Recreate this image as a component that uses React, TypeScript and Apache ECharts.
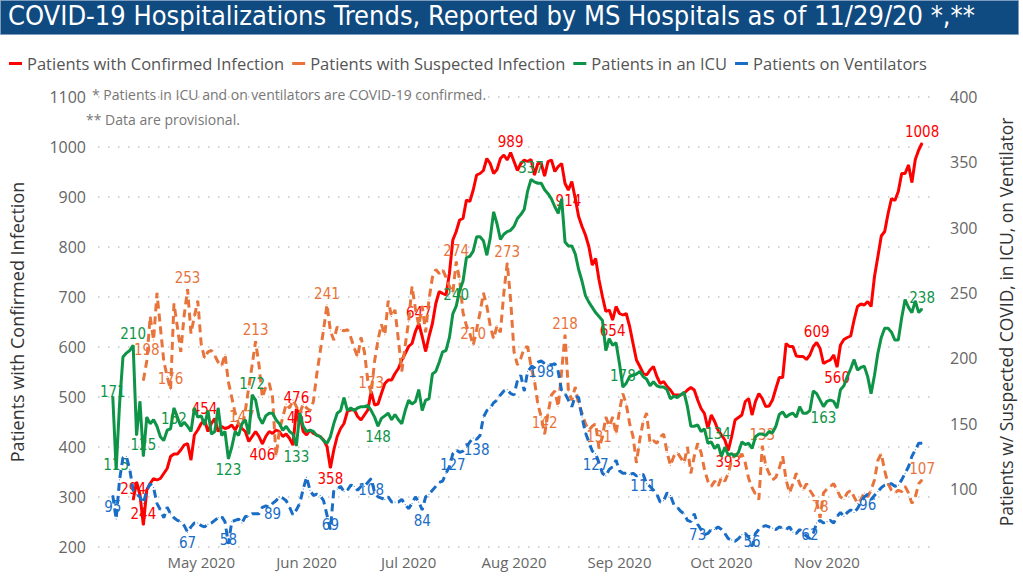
import React, { useEffect, useRef } from "react";
import * as echarts from "echarts";

// ---- data: daily values, index 0 = 5 Apr 2020, last = 29 Nov 2020 ----
const START_DATE = Date.UTC(2020, 3, 5);

const confirmed: (number | null)[] = [
  null, null, null, null, null, null, 294, 330, 305, 244,
  314, 327, 337, 334, 337, 347, 357, 381, 386, 386,
  394, 404, 407, 374, 424, 434, 447, 454, 431, 447,
  457, 431, 441, 437, 439, 444, 434, 447, 437, 431,
  411, 421, 431, 421, 406, 421, 431, 427, 434, 431,
  421, 426, 417, 404, 476, 465, 431, 424, 434, 427,
  424, 421, 414, 401, 358, 394, 421, 437, 447, 471,
  474, 475, 461, 454, 464, 474, 511, 484, 486, 507,
  527, 534, 534, 547, 557, 574, 587, 601, 607, 631,
  647, 621, 591, 621, 647, 687, 711, 707, 704, 747,
  814, 831, 854, 857, 894, 891, 914, 944, 947, 953,
  977, 967, 947, 955, 977, 984, 974, 989, 971, 953,
  967, 974, 971, 975, 944, 967, 967, 942, 971, 974,
  951, 961, 967, 927, 914, 931, 897, 861, 841, 824,
  801, 764, 777, 734, 701, 671, 674, 654, 681, 667,
  664, 667, 641, 607, 574, 561, 547, 544, 554, 561,
  541, 527, 531, 521, 514, 504, 504, 504, 507, 514,
  519, 514, 494, 477, 467, 437, 464, 451, 434, 424,
  414, 393, 421, 454, 459, 464, 491, 497, 464, 491,
  507, 497, 481, 482, 494, 517, 539, 539, 607, 601,
  601, 582, 581, 581, 575, 584, 601, 609, 597, 567,
  571, 574, 584, 560, 604, 615, 619, 622, 654, 681,
  686, 684, 691, 681, 741, 781, 822, 831, 867, 897,
  893, 911, 947, 947, 964, 929, 975, 994, 1008,
];

const suspected: (number | null)[] = [
  null, null, null, null, null, null, null, null, null, 183,
  198, 232, 214, 250, 224, 198, 186, 176, 242, 224,
  205, 233, 253, 219, 232, 244, 211, 200, 205, 206,
  202, 197, 194, 203, 182, 170, 158, 150, 147, 160,
  178, 195, 213, 195, 170, 178, 181, 170, 125, 145,
  155, 165, 162, 168, 163, 158, 165, 162, 160, 167,
  188, 205, 222, 241, 221, 214, 224, 222, 221, 222,
  216, 208, 201, 216, 205, 183, 173, 198, 214, 226,
  218, 244, 232, 237, 214, 190, 210, 228, 255, 238,
  225, 240, 220, 245, 262, 268, 265, 268, 262, 255,
  250, 274, 260, 235, 225, 219, 210, 222, 235, 250,
  240, 225, 215, 225, 220, 250, 273, 245, 205, 195,
  200, 208, 209, 194, 183, 165, 155, 142, 158, 172,
  175, 163, 190, 218, 175, 168, 178, 165, 158, 150,
  145, 148, 150, 131, 140, 155, 148, 155, 142, 160,
  173, 165, 150, 140, 120, 138, 152, 158, 135, 137,
  135, 140, 142, 128, 118, 125, 128, 124, 120, 132,
  112, 125, 135, 128, 115, 106, 102, 106, 102, 109,
  106, 112, 122, 127, 123, 127, 120, 108, 101, 96,
  92, 133, 118, 112, 107, 109, 116, 125, 107, 97,
  104, 112, 104, 99, 104, 99, 95, 90, 78, 97,
  100, 102, 104, 99, 94, 92, 97, 99, 94, 89,
  92, 97, 94, 99, 107, 122, 127, 114, 104, 99,
  97, 99, 98, 102, 97, 89, 94, 104, 107,
];

const icu: number[] = [
  171, 115, 165, 201, 204, 206, 210, 141, 167, 125,
  155, 150, 153, 148, 140, 137, 145, 146, 162, 155,
  148, 151, 148, 144, 162, 155, 156, 149, 160, 142,
  144, 162, 141, 144, 123, 132, 144, 141, 150, 153,
  142, 172, 168, 155, 150, 156, 158, 158, 153, 150,
  145, 148, 144, 142, 133, 158, 148, 144, 145, 144,
  141, 140, 137, 135, 140, 150, 158, 160, 170, 160,
  162, 160, 162, 163, 163, 164, 160, 155, 148, 154,
  156, 158, 153, 157, 153, 150, 160, 168, 165, 167,
  176, 160, 168, 169, 188, 190, 197, 205, 206, 216,
  234, 240, 252, 259, 277, 278, 282, 293, 293, 290,
  279, 292, 312, 303, 291, 295, 297, 298, 301, 307,
  310, 314, 328, 337, 335, 334, 334, 329, 326, 322,
  316, 311, 322, 289, 286, 286, 280, 268, 259, 248,
  243, 239, 235, 232, 229, 206, 215, 210, 212, 196,
  178, 181, 186, 187, 188, 190, 186, 184, 179, 182,
  179, 178, 178, 176, 169, 171, 170, 172, 174, 163,
  148, 148, 149, 144, 146, 135, 136, 131, 134, 125,
  132, 126, 127, 125, 128, 136, 134, 135, 131, 140,
  142, 142, 141, 144, 143, 148, 157, 159, 155, 157,
  158, 155, 163, 158, 158, 160, 175, 173, 168, 163,
  167, 168, 167, 162, 176, 179, 186, 192, 199, 191,
  193, 194, 186, 173, 187, 204, 216, 223, 223, 220,
  214, 214, 231, 245, 239, 235, 244, 235, 238,
];

const ventilators: number[] = [
  95, 77, 107, 124, 125, 115, 99, 96, 94, 89,
  99, 104, 101, 89, 84, 78, 86, 81, 78, 76,
  75, 72, 67, 71, 74, 74, 72, 71, 73, 74,
  76, 78, 79, 75, 58, 75, 76, 77, 74, 79,
  79, 81, 81, 81, 86, 87, 86, 89, 91, 94,
  93, 91, 86, 80, 84, 89, 100, 109, 99, 95,
  96, 95, 91, 80, 69, 99, 100, 102, 98, 99,
  103, 102, 99, 102, 102, 105, 108, 97, 94, 93,
  92, 94, 90, 90, 90, 92, 88, 85, 89, 94,
  90, 84, 94, 96, 99, 102, 105, 106, 112, 117,
  127, 130, 128, 129, 132, 136, 139, 138, 141, 155,
  160, 162, 166, 168, 172, 175, 176, 173, 172, 183,
  187, 175, 190, 193, 193, 197, 198, 196, 195, 195,
  196, 190, 175, 173, 168, 163, 171, 170, 155, 143,
  136, 129, 127, 120, 112, 110, 115, 117, 122, 114,
  112, 112, 111, 112, 110, 111, 111, 104, 102, 99,
  96, 90, 91, 97, 95, 88, 86, 83, 81, 76,
  75, 81, 73, 69, 65, 66, 69, 69, 71, 69,
  66, 62, 61, 60, 62, 65, 66, 63, 56, 66,
  69, 71, 72, 71, 70, 69, 71, 70, 69, 71,
  67, 66, 69, 66, 64, 62, 66, 74, 76, 74,
  75, 76, 74, 79, 82, 79, 82, 84, 82, 85,
  90, 94, 96, 92, 95, 98, 101, 103, 104, 104,
  102, 103, 107, 112, 117, 125, 130, 135, 135,
];

// which points carry a data label: [index, placement, vertical nudge]
const confirmedLabels: [number, string, number][] = [
  [6, "top", 0], [9, "top", 0], [27, "top", 0], [44, "bottom", 0], [54, "top", 0], [55, "inside", 3],
  [64, "bottom", 0], [90, "top", 0], [117, "top", 0], [134, "bottom", 0], [147, "bottom", 0],
  [181, "bottom", 0], [207, "top", 0], [213, "bottom", 0], [238, "top", 0],
];
const suspectedLabels: [number, string, number][] = [
  [10, "top", 0], [17, "top", 0], [22, "top", 0], [38, "top", 0], [42, "top", 0], [63, "top", 0],
  [76, "top", 0], [101, "top", 0], [106, "top", 0], [116, "top", 0], [127, "top", 0], [133, "top", 0],
  [143, "top", 0], [191, "top", 0], [208, "top", 0], [238, "top", 0],
];
const icuLabels: [number, string, number][] = [
  [0, "inside", -4], [1, "inside", -4], [6, "top", 0], [9, "top", 0], [18, "bottom", 0], [34, "bottom", 0],
  [41, "top", 0], [54, "bottom", 0], [78, "bottom", 0], [101, "top", 0], [123, "top", 0], [150, "top", 0],
  [178, "top", 0], [209, "bottom", 0], [238, "top", 0],
];
const ventLabels: [number, string, number][] = [
  [0, "bottom", 0], [22, "bottom", 0], [34, "inside", -4], [47, "bottom", 0], [64, "inside", -4],
  [76, "bottom", 0], [91, "bottom", 0], [100, "bottom", 0], [107, "bottom", 0], [126, "bottom", 0],
  [142, "bottom", 0], [156, "bottom", 0], [172, "bottom", 0], [188, "inside", -4], [205, "inside", -4],
  [222, "bottom", 0],
];

const monthTickLabels = ["May 2020", "Jun 2020", "Jul 2020", "Aug 2020", "Sep 2020", "Oct 2020", "Nov 2020"];
const monthTickDates = [
  Date.UTC(2020, 4, 1), Date.UTC(2020, 5, 1), Date.UTC(2020, 6, 1), Date.UTC(2020, 7, 1),
  Date.UTC(2020, 8, 1), Date.UTC(2020, 9, 1), Date.UTC(2020, 10, 1),
];
const rightTicks = [100, 150, 200, 250, 300, 350, 400];

const seriesNames = [
  "Patients with Confirmed Infection",
  "Patients with Suspected Infection",
  "Patients in an ICU",
  "Patients on Ventilators",
];
const colors = ["#FF0000", "#E8743B", "#0E9447", "#1A6DC6"];

const NARROW = "'Liberation Sans Narrow', 'DejaVu Sans Condensed', 'Roboto Condensed', sans-serif";
const SANS = "'Segoe UI', 'Open Sans', 'Noto Sans', sans-serif";

const DAY = 86400000;

function buildData(values: (number | null)[], labels: [number, string, number][]) {
  const lab = new Map(labels.map((l) => [l[0], l]));
  const out: any[] = [];
  values.forEach((v, i) => {
    if (v === null) return;
    const spec = lab.get(i);
    const item: any = { value: [i, v] };
    if (spec) {
      item.label = { show: true, position: spec[1] };
      if (spec[2]) item.label.offset = [0, spec[2]];
    }
    out.push(item);
  });
  return out;
}

export default function App() {
  const ref = useRef<HTMLDivElement>(null);

  useEffect(() => {
    if (!ref.current) return;
    const chart = echarts.init(ref.current, undefined, { renderer: "svg" });
    const monthIdx = monthTickDates.map((d) => Math.round((d - START_DATE) / DAY));
    const lastIdx = icu.length - 1;

    const mkSeries = (k: number, values: (number | null)[], labels: [number, string, number][], yAxisIndex: number, dashed: boolean) => ({
      name: seriesNames[k],
      type: "line",
      yAxisIndex,
      data: buildData(values, labels),
      symbol: "circle",
      symbolSize: 1,
      showSymbol: true,
      itemStyle: { color: colors[k] },
      lineStyle: { color: colors[k], width: 3, type: dashed ? [8, 5] : "solid" },
      label: {
        show: false,
        color: colors[k],
        fontFamily: NARROW,
        fontSize: 15,
        distance: 3,
        formatter: (p: any) => String(p.value[1]),
      },
      emphasis: { disabled: true },
      z: 2 + k,
    });

    chart.setOption({
      animation: false,
      backgroundColor: "#ffffff",
      grid: { left: 90, right: 83, top: 97, bottom: 41, containLabel: false },
      legend: {
        data: seriesNames,
        left: 4,
        top: 50,
        icon: "rect",
        itemWidth: 13,
        itemHeight: 3,
        itemGap: 8,
        textStyle: { color: "#555", fontSize: 16.5, fontFamily: SANS },
      },
      xAxis: {
        type: "value",
        min: -4.34,
        max: lastIdx + 3.5,
        splitLine: { show: false },
        axisLine: { show: false },
        axisTick: { show: false },
        axisLabel: {
          customValues: monthIdx,
          formatter: (v: number) => {
            const k = monthIdx.indexOf(Math.round(v));
            return k >= 0 ? monthTickLabels[k] : "";
          },
          color: "#666",
          fontSize: 15,
          fontFamily: SANS,
          margin: 7,
        },
      },
      yAxis: [
        {
          type: "value",
          min: 200,
          max: 1100,
          interval: 100,
          name: "Patients with Confirmed Infection",
          nameLocation: "middle",
          nameRotate: 90,
          nameGap: 72,
          nameTextStyle: { color: "#333", fontSize: 18, fontFamily: SANS },
          axisLine: { show: false },
          axisTick: { show: false },
          axisLabel: {
            color: "#666",
            fontSize: 16,
            fontFamily: SANS,
            margin: 12,
            formatter: (v: number) => String(v),
          },
          splitLine: { lineStyle: { color: "#c4c4c4", width: 1.5, type: [1.5, 8.5] } },
        },
        {
          type: "value",
          min: 55.6,
          max: 400,
          name: "Patients w/ Suspected COVID, in ICU, on Ventilator",
          nameLocation: "middle",
          nameRotate: 90,
          nameGap: 63,
          nameTextStyle: { color: "#333", fontSize: 17.5, fontFamily: SANS },
          axisLine: { show: false },
          axisTick: { show: false },
          axisLabel: {
            customValues: rightTicks,
            color: "#666",
            fontSize: 16,
            fontFamily: SANS,
            margin: 16,
            formatter: (v: number) => String(v),
          },
          splitLine: { show: false },
        },
      ],
      graphic: [
        {
          type: "rect",
          left: 0,
          top: 0,
          shape: { x: 0, y: 0, width: 1018, height: 34 },
          style: { fill: "#0F4A80", stroke: "#7d9cbd", lineWidth: 1 },
          z: 10,
        },
        {
          type: "text",
          left: 8,
          top: 2,
          style: {
            text: "COVID-19 Hospitalizations Trends, Reported by MS Hospitals as of 11/29/20 *,**",
            fill: "#ffffff",
            font: "27px " + NARROW,
          },
          z: 11,
        },
        {
          type: "text",
          left: 92,
          top: 87,
          style: {
            text: "* Patients in ICU and on ventilators are COVID-19 confirmed.",
            fill: "#777",
            font: "14px " + SANS,
          },
          z: 11,
        },
        {
          type: "text",
          left: 86,
          top: 112,
          style: { text: "** Data are provisional.", fill: "#777", font: "14px " + SANS },
          z: 11,
        },
      ],
      series: [
        mkSeries(0, confirmed, confirmedLabels, 0, false),
        mkSeries(1, suspected, suspectedLabels, 1, true),
        mkSeries(2, icu, icuLabels, 1, false),
        mkSeries(3, ventilators, ventLabels, 1, true),
      ],
    });
    return () => chart.dispose();
  }, []);

  return <div ref={ref} style={{ position: "fixed", left: 0, top: 0, width: 1023, height: 588 }} />;
}
